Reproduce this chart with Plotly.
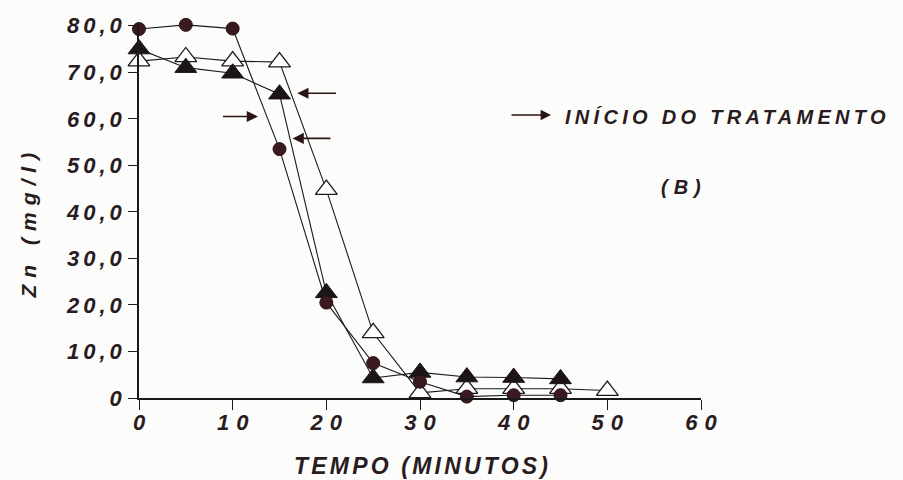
import plotly.graph_objects as go

# ---- data ----
tempo = [0, 5, 10, 15, 20, 25, 30, 35, 40, 45]
zn_circulo = [79.3, 80.2, 79.4, 53.5, 20.5, 7.5, 3.5, 0.3, 0.6, 0.6]
zn_tri_cheio = [75.0, 71.0, 69.8, 65.3, 22.6, 4.3, 5.5, 4.5, 4.4, 4.1]
tempo_aberto = [0, 5, 10, 15, 20, 25, 30, 35, 40, 45, 50]
zn_tri_aberto = [72.4, 73.3, 72.4, 72.2, 44.8, 14.0, 1.1, 2.0, 2.0, 2.0, 1.6]

y_ticks = [0, 10, 20, 30, 40, 50, 60, 70, 80]
y_tick_labels = ["0", "10,0", "20,0", "30,0", "40,0", "50,0", "60,0", "70,0", "80,0"]
x_ticks = [0, 10, 20, 30, 40, 50, 60]
x_tick_labels = ["0", "10", "20", "30", "40", "50", "60"]

# treatment-start arrows: (tail_x, head_x, y)
setas = [(21.2, 16.9, 65.5), (8.8, 12.7, 60.5), (20.6, 16.4, 55.8)]

INK = "#2a1c1e"
FONT = "Liberation Sans"

W, H = 903, 480
Y_TOP = 80.6
PX_PER_UNIT = 4.65
L, R, B = 139, 202, 82
T = round(26 - (Y_TOP - 80) * PX_PER_UNIT)
pw, ph = W - L - R, H - T - B


def px2paper(px, py):
    return (px - L) / pw, (H - B - py) / ph


fig = go.Figure()
line_style = dict(color="#1a1a1a", width=1.1)

fig.add_trace(go.Scatter(
    x=tempo_aberto, y=zn_tri_aberto, mode="lines+markers", cliponaxis=False,
    line=line_style,
    marker=dict(symbol="triangle-up", size=19, color="white",
                line=dict(color="#1a1a1a", width=1.3)),
    showlegend=False))
fig.add_trace(go.Scatter(
    x=tempo, y=zn_tri_cheio, mode="lines+markers", cliponaxis=False,
    line=line_style,
    marker=dict(symbol="triangle-up", size=19, color="#1c1416",
                line=dict(color="#1c1416", width=1)),
    showlegend=False))
fig.add_trace(go.Scatter(
    x=tempo, y=zn_circulo, mode="lines+markers", cliponaxis=False,
    line=line_style,
    marker=dict(symbol="circle", size=13, color="#3a1a20",
                line=dict(color="#2a1416", width=1)),
    showlegend=False))

for tx, hx, yy in setas:
    fig.add_annotation(
        x=hx, y=yy, ax=tx, ay=yy, xref="x", yref="y", axref="x", ayref="y",
        text="", showarrow=True, arrowhead=2, arrowsize=1.4, arrowwidth=1.6,
        arrowcolor="#2a1416")

# legend arrow
hx, hy = px2paper(551, 115)
fig.add_annotation(x=hx, y=hy, xref="paper", yref="paper", ax=-41, ay=0,
                   text="", showarrow=True, arrowhead=2, arrowsize=1.3,
                   arrowwidth=1.6, arrowcolor="#2a1416")

lx, ly = px2paper(727, 117)
fig.add_annotation(x=lx, y=ly, xref="paper", yref="paper", xanchor="center",
                   yanchor="middle", showarrow=False, text="INÍCIO DO TRATAMENTO",
                   font=dict(family=FONT, size=20, color=INK, style="italic", weight="bold"))
bx, by = px2paper(684, 187)
fig.add_annotation(x=bx, y=by, xref="paper", yref="paper", xanchor="center",
                   yanchor="middle", showarrow=False, text="(B)",
                   font=dict(family=FONT, size=20, color=INK, style="italic", weight="bold"))

# axis titles as annotations
xtx, xty = px2paper(422, 466)
fig.add_annotation(x=xtx, y=xty, xref="paper", yref="paper", xanchor="center",
                   yanchor="middle", showarrow=False, text="TEMPO (MINUTOS)",
                   font=dict(family=FONT, size=23, color=INK, style="italic", weight="bold"))
ytx, yty = px2paper(29, 222)
fig.add_annotation(x=ytx, y=yty, xref="paper", yref="paper", xanchor="center",
                   yanchor="middle", showarrow=False, text="Zn (mg/l)", textangle=-90,
                   font=dict(family=FONT, size=21, color=INK, style="italic", weight="bold"))

fig.update_layout(
    width=W, height=H,
    margin=dict(l=L, r=R, t=T, b=B),
    paper_bgcolor="#fcfcfa", plot_bgcolor="#fcfcfa",
    xaxis=dict(range=[0, 60], tickvals=x_ticks, ticktext=x_tick_labels,
               showgrid=False, zeroline=False, showline=True, linecolor="#1a1a1a",
               linewidth=1.5, ticks="outside", ticklen=10, tickwidth=1.3,
               tickcolor="#1a1a1a",
               tickfont=dict(family=FONT, size=22, color=INK, style="italic", weight="bold")),
    yaxis=dict(range=[0, Y_TOP], tickvals=y_ticks, ticktext=y_tick_labels,
               showgrid=False, zeroline=False, showline=True, linecolor="#1a1a1a",
               linewidth=1.5, ticks="outside", ticklen=9, tickwidth=1.3,
               tickcolor="#1a1a1a",
               tickfont=dict(family=FONT, size=22, color=INK, style="italic", weight="bold")),
)

# widen letter tracking like the original typeset labels
post = """
var gd = document.getElementById('{plot_id}');
gd.querySelectorAll('.xtick text').forEach(function(t){
  t.style.letterSpacing = '7px'; t.setAttribute('dx', '3.5'); t.setAttribute('dy', '-6');
});
gd.querySelectorAll('.ytick text').forEach(function(t){ t.style.letterSpacing = '4px'; t.setAttribute('dx', '2'); });
gd.querySelectorAll('.annotation-text').forEach(function(t){
  var s = t.textContent;
  if (s === 'INÍCIO DO TRATAMENTO') t.style.letterSpacing = '4.3px';
  else if (s === '(B)') t.style.letterSpacing = '6px';
  else if (s === 'TEMPO (MINUTOS)') t.style.letterSpacing = '3.2px';
  else if (s === 'Zn (mg/l)') t.style.letterSpacing = '7px';
});
"""
fig.write_html("out.html", post_script=post)
